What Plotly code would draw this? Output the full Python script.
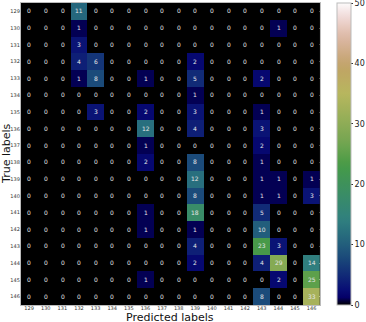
import numpy as np
import plotly.graph_objects as go

labels = [str(n) for n in range(129, 147)]

# confusion matrix (rows = true, cols = predicted)
cm = [
    [0, 0, 0, 11, 0, 0, 0, 0, 0, 0, 0, 0, 0, 0, 0, 0, 0, 0],
    [0, 0, 0, 1, 0, 0, 0, 0, 0, 0, 0, 0, 0, 0, 0, 1, 0, 0],
    [0, 0, 0, 3, 0, 0, 0, 0, 0, 0, 0, 0, 0, 0, 0, 0, 0, 0],
    [0, 0, 0, 4, 6, 0, 0, 0, 0, 0, 2, 0, 0, 0, 0, 0, 0, 0],
    [0, 0, 0, 1, 8, 0, 0, 1, 0, 0, 5, 0, 0, 0, 2, 0, 0, 0],
    [0, 0, 0, 0, 0, 0, 0, 0, 0, 0, 1, 0, 0, 0, 0, 0, 0, 0],
    [0, 0, 0, 0, 3, 0, 0, 2, 0, 0, 3, 0, 0, 0, 1, 0, 0, 0],
    [0, 0, 0, 0, 0, 0, 0, 12, 0, 0, 4, 0, 0, 0, 3, 0, 0, 0],
    [0, 0, 0, 0, 0, 0, 0, 1, 0, 0, 0, 0, 0, 0, 2, 0, 0, 0],
    [0, 0, 0, 0, 0, 0, 0, 2, 0, 0, 8, 0, 0, 0, 1, 0, 0, 0],
    [0, 0, 0, 0, 0, 0, 0, 0, 0, 0, 12, 0, 0, 0, 1, 1, 0, 1],
    [0, 0, 0, 0, 0, 0, 0, 0, 0, 0, 8, 0, 0, 0, 1, 1, 0, 3],
    [0, 0, 0, 0, 0, 0, 0, 1, 0, 0, 18, 0, 0, 0, 5, 0, 0, 0],
    [0, 0, 0, 0, 0, 0, 0, 1, 0, 0, 1, 0, 0, 0, 10, 0, 0, 0],
    [0, 0, 0, 0, 0, 0, 0, 0, 0, 0, 4, 0, 0, 0, 23, 3, 0, 0],
    [0, 0, 0, 0, 0, 0, 0, 0, 0, 0, 2, 0, 0, 0, 4, 29, 0, 14],
    [0, 0, 0, 0, 0, 0, 0, 1, 0, 0, 0, 0, 0, 0, 0, 2, 0, 25],
    [0, 0, 0, 0, 0, 0, 0, 0, 0, 0, 0, 0, 0, 0, 8, 0, 0, 33],
]
cbar_ticks = [0, 10, 20, 30, 40, 50]

# rough copy of matplotlib's gist_earth map
red = [(0, 0), (0.2824, 0.1882), (0.4588, 0.2714), (0.549, 0.4719), (0.698, 0.7176), (0.7882, 0.7553), (1, 0.9922)]
green = [(0, 0), (0.0275, 0), (0.1098, 0.1893), (0.1647, 0.3035), (0.2078, 0.3841), (0.2824, 0.502),
         (0.5216, 0.6397), (0.698, 0.7171), (0.7882, 0.6392), (0.8157, 0.6549), (0.8667, 0.6991),
         (0.898, 0.743), (0.9412, 0.8275), (0.9647, 0.8816), (1, 0.9843)]
blue = [(0, 0), (0.0039, 0.1684), (0.0078, 0.2212), (0.0275, 0.4329), (0.0314, 0.4549), (0.2824, 0.5004),
        (0.4667, 0.2748), (0.5451, 0.3205), (0.7843, 0.3961), (0.8941, 0.6651), (1, 0.9843)]

def chan(pts, t):
    xs, ys = zip(*pts)
    return np.interp(t, xs, ys)

cscale = []
for t in np.linspace(0, 1, 41):
    r, g, b = (int(round(255 * chan(c, t))) for c in (red, green, blue))
    cscale.append([float(t), f"rgb({r},{g},{b})"])

W, H = 366, 322
# pixel box of the heatmap, turned into domains so nothing pushes the margins
x0, x1, y0, y1 = 21, 322.5, 3, 305

fig = go.Figure(go.Heatmap(
    z=cm, x=labels, y=labels,
    colorscale=cscale, zmin=0, zmax=50,
    texttemplate="%{z}", textfont=dict(size=6, color="#e6e6e6", family="DejaVu Sans"),
    colorbar=dict(x=340 / W, xanchor="left", thickness=14, len=(y1 - y0) / H, lenmode="fraction",
                  y=1 - (y0 + y1) / 2 / H, yanchor="middle", xpad=0, ypad=0,
                  outlinewidth=1, outlinecolor="#bbbbbb",
                  tickvals=cbar_ticks, ticks="outside", ticklen=2, tickcolor="#333333",
                  ticklabeloverflow="allow",
                  tickfont=dict(size=8, color="#222222")),
))

fig.update_xaxes(type="category", domain=[x0 / W, x1 / W], tickfont=dict(size=5, color="#333333"),
                 ticks="", ticklabelstandoff=-2,
                 showline=True, linecolor="#bbbbbb", mirror=True, automargin=False)
fig.update_yaxes(type="category", domain=[1 - y1 / H, 1 - y0 / H], autorange="reversed",
                 tickfont=dict(size=5, color="#333333"), ticks="", ticklabelstandoff=-1,
                 showline=True, linecolor="#bbbbbb", mirror=True, automargin=False)

# axis titles as annotations, placed where the reference has them
fig.add_annotation(text="Predicted labels", xref="paper", yref="paper",
                   x=(x0 + x1) / 2 / W, y=1 - 317 / H, xanchor="center", yanchor="middle",
                   showarrow=False, font=dict(size=11, color="#111111"))
fig.add_annotation(text="True labels", xref="paper", yref="paper", textangle=-90,
                   x=6 / W, y=1 - (y0 + y1) / 2 / H, xanchor="center", yanchor="middle",
                   showarrow=False, font=dict(size=11, color="#111111"))

fig.update_layout(width=W, height=H, margin=dict(l=0, r=0, t=0, b=0),
                  paper_bgcolor="white", plot_bgcolor="black",
                  font=dict(family="DejaVu Sans"))

# page default body margin would shift the chart by 8px
fig.write_html("out.html", config={"displayModeBar": False},
               post_script="document.body.style.margin='0';document.body.style.overflow='hidden';")
